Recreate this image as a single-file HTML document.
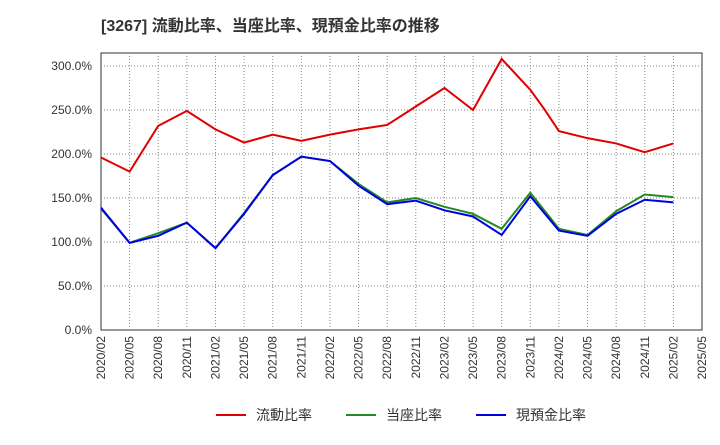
<!DOCTYPE html>
<html><head><meta charset="utf-8"><style>
body{margin:0;background:#fff;width:720px;height:440px;overflow:hidden;font-family:"Liberation Sans","Noto Sans CJK JP",sans-serif;}
</style></head><body>
<svg id="chart" width="720" height="440" xmlns="http://www.w3.org/2000/svg"></svg>
<script>
const categories=["2020/02","2020/05","2020/08","2020/11","2021/02","2021/05","2021/08","2021/11","2022/02","2022/05","2022/08","2022/11","2023/02","2023/05","2023/08","2023/11","2024/02","2024/05","2024/08","2024/11","2025/02"];
const tickLabels=["2020/02","2020/05","2020/08","2020/11","2021/02","2021/05","2021/08","2021/11","2022/02","2022/05","2022/08","2022/11","2023/02","2023/05","2023/08","2023/11","2024/02","2024/05","2024/08","2024/11","2025/02","2025/05"];
const yTicks=[0,50,100,150,200,250,300];
const currentRatio=[196,180,232,249,228,213,222,215,222,228,233,254,275,250,308,273,226,218,212,202,212];
const currentExtraIdx=[15.5];
const currentExtraVal=[250.5];
const quickRatio=[138,99,110,122,93,133,176,197,192,166,145,150,140,132,115,156,115,108,135,154,151];
const cashRatio=[139,99,107,122,93,132,176,197,192,164,143,147,136,129,108,152,113,107,132,148,145];
const seriesNames=["流動比率","当座比率","現預金比率"];
const colors=["#e00000","#228b22","#0000e0"];

const svg=document.getElementById('chart');
const NS="http://www.w3.org/2000/svg";
const L=101,R=702,T=53,B=330;
const xs=i=>L+(R-L)*i/(tickLabels.length-1);
const ys=v=>B-v*0.88;
function mk(tag,attrs,name,parent){const e=document.createElementNS(NS,tag);for(const k in attrs)e.setAttribute(k,attrs[k]);


(parent||svg).appendChild(e);return e;}
const title=mk('text',{x:101,y:31,'font-size':16,'font-weight':'bold',fill:'#333'},'chart-title');
title.textContent="[3267]  流動比率、当座比率、現預金比率の推移";
mk('rect',{x:L,y:T,width:R-L,height:B-T,fill:'none',stroke:'#333','stroke-width':1},'plot-area');
yTicks.forEach(v=>{
 if(v>0){mk('line',{x1:L,x2:R,y1:ys(v),y2:ys(v),stroke:'#888','stroke-dasharray':'1,2'},'y-gridline');}
 const t=mk('text',{x:L-9,y:ys(v)+4,'text-anchor':'end','font-size':12,fill:'#333'},'y-tick-label');
 t.textContent=v.toFixed(1)+"%";
});
tickLabels.forEach((lab,i)=>{
 if(i>0&&i<tickLabels.length-1)mk('line',{x1:xs(i),x2:xs(i),y1:T,y2:B,stroke:'#888','stroke-dasharray':'1,2'},'x-gridline');
 const t=mk('text',{transform:`translate(${xs(i)+4},${B+6}) rotate(-90)`,'text-anchor':'end','font-size':12,fill:'#333'},'x-tick-label');
 t.textContent=lab;
});
function ptsOf(s,extraI,extraV){
 let arr=s.map((v,i)=>[i,v]);
 if(extraI){extraI.forEach((ei,k)=>arr.push([ei,extraV[k]]));arr.sort((a,b)=>a[0]-b[0]);}
 return arr.map(p=>xs(p[0])+","+ys(p[1])).join(" ");
}
[currentRatio,quickRatio,cashRatio].forEach((s,k)=>{
 const pts=k===0?ptsOf(s,currentExtraIdx,currentExtraVal):ptsOf(s);
 mk('polyline',{points:pts,fill:'none',stroke:colors[k],'stroke-width':2},'series-line-'+(k+1));
});
const lx=[216,346,476];
seriesNames.forEach((n,k)=>{
 const g=mk('g',{},'legend-entry');
 mk('line',{x1:lx[k],x2:lx[k]+30,y1:415,y2:415,stroke:colors[k],'stroke-width':2},'legend-swatch',g);
 const t=mk('text',{x:lx[k]+40,y:420,'font-size':14,fill:'#333'},'legend-label',g);
 t.textContent=n;
});
</script>
</body></html>
